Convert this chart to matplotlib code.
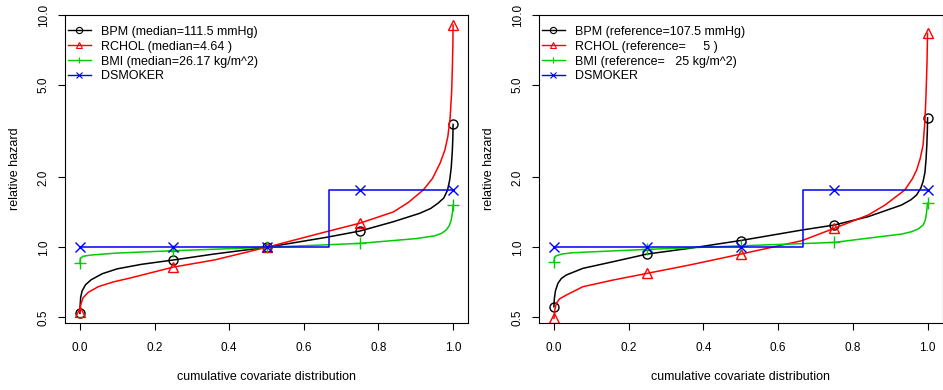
import matplotlib
matplotlib.use('Agg')
import matplotlib.pyplot as plt
from matplotlib.lines import Line2D
from matplotlib.ticker import NullLocator

plt.rcParams['font.family'] = ['Liberation Sans', 'DejaVu Sans']
plt.rcParams['font.size'] = 8

# quantiles where the markers sit
quantiles = [0.0, 0.25, 0.5, 0.75, 1.0]

# ---- left panel (relative to medians)
left_bpm_x = [0, 0.0005, 0.002, 0.006, 0.015, 0.03, 0.06, 0.1, 0.165, 0.25, 0.36, 0.5, 0.66, 0.75,
              0.84, 0.91, 0.94, 0.96, 0.975, 0.985, 0.991, 0.995, 0.998, 0.9995, 1.0]
left_bpm_y = [0.52, 0.56, 0.61, 0.65, 0.69, 0.725, 0.77, 0.808, 0.845, 0.882, 0.936, 1.0, 1.104, 1.175,
              1.289, 1.40, 1.47, 1.55, 1.63, 1.76, 1.95, 2.2, 2.6, 3.0, 3.38]
left_bpm_pts = [0.52, 0.882, 1.0, 1.175, 3.38]

left_rchol_x = [0, 0.002, 0.008, 0.022, 0.05, 0.09, 0.138, 0.25, 0.36, 0.5, 0.66, 0.75, 0.84, 0.88,
                0.92, 0.945, 0.965, 0.978, 0.986, 0.992, 0.996, 0.998, 0.9995, 1.0]
left_rchol_y = [0.528, 0.565, 0.605, 0.64, 0.678, 0.71, 0.74, 0.822, 0.882, 1.0, 1.167, 1.27, 1.42, 1.56,
                1.765, 1.98, 2.3, 2.62, 3.0, 3.6, 4.6, 5.8, 7.5, 9.06]
left_rchol_pts = [0.528, 0.822, 1.0, 1.27, 9.06]

left_bmi_x = [0, 0.001, 0.008, 0.031, 0.1, 0.25, 0.5, 0.75, 0.9, 0.95, 0.97, 0.982, 0.99, 0.995, 0.998, 1.0]
left_bmi_y = [0.853, 0.895, 0.915, 0.927, 0.945, 0.967, 1.0, 1.04, 1.09, 1.12, 1.15, 1.19, 1.24, 1.31, 1.4, 1.52]
left_bmi_pts = [0.853, 0.967, 1.0, 1.04, 1.52]

# ---- right panel (relative to reference values)
right_bpm_x = [0, 0.001, 0.004, 0.0107, 0.02, 0.033, 0.0775, 0.158, 0.25, 0.3625, 0.5, 0.6635, 0.75,
               0.841, 0.93, 0.955, 0.9706, 0.982, 0.988, 0.993, 0.996, 0.998, 0.9995, 1.0]
right_bpm_y = [0.555, 0.60, 0.65, 0.70, 0.735, 0.76, 0.812, 0.867, 0.936, 0.99, 1.07, 1.187, 1.247,
               1.355, 1.52, 1.60, 1.68, 1.80, 1.92, 2.1, 2.4, 2.75, 3.2, 3.61]
right_bpm_pts = [0.555, 0.936, 1.07, 1.247, 3.61]

right_rchol_x = [0, 0.0025, 0.0064, 0.015, 0.033, 0.0775, 0.158, 0.25, 0.3625, 0.5, 0.6635, 0.75, 0.841,
                 0.886, 0.939, 0.96, 0.9706, 0.98, 0.988, 0.993, 0.996, 0.9985, 1.0]
right_rchol_y = [0.495, 0.54, 0.574, 0.60, 0.623, 0.677, 0.723, 0.773, 0.839, 0.935, 1.068, 1.207, 1.377,
                 1.52, 1.765, 1.98, 2.15, 2.4, 2.75, 3.5, 4.6, 6.2, 8.34]
right_rchol_pts = [0.495, 0.773, 0.935, 1.207, 8.34]

right_bmi_x = [0, 0.0015, 0.0045, 0.02, 0.05, 0.25, 0.5, 0.75, 0.886, 0.93, 0.957, 0.975, 0.988, 0.994, 0.997, 1.0]
right_bmi_y = [0.867, 0.9, 0.917, 0.935, 0.948, 0.98, 1.015, 1.05, 1.118, 1.14, 1.167, 1.2, 1.247, 1.31, 1.40, 1.55]
right_bmi_pts = [0.867, 0.98, 1.015, 1.05, 1.55]

# smoker: binary, step at 2/3
smoker_x = [0, 0.667, 1.0]
smoker_y = [1.0, 1.765, 1.765]
smoker_pts = [1.0, 1.0, 1.0, 1.765, 1.765]

left_labels = ['BPM (median=111.5 mmHg)', 'RCHOL (median=4.64 )',
               'BMI (median=26.17 kg/m^2)', 'DSMOKER']
right_labels = ['BPM (reference=107.5 mmHg)', 'RCHOL (reference=     5 )',
                'BMI (reference=   25 kg/m^2)', 'DSMOKER']

ytick_vals = [0.5, 1.0, 2.0, 5.0, 10.0]
ytick_labels = ['0.5', '1.0', '2.0', '5.0', '10.0']
xtick_vals = [0.0, 0.2, 0.4, 0.6, 0.8, 1.0]

colors = ['black', '#ff0000', '#00cd00', '#0000ff']
markers = ['o', '^', '+', 'x']
msizes = [6.5, 7.5, 9, 6.5]


def draw_panel(ax, curves, labels):
    for i, (cx, cy, pts) in enumerate(curves):
        if i == 3:
            ax.plot(cx, cy, color=colors[i], lw=1.1, drawstyle='steps-post')
        else:
            ax.plot(cx, cy, color=colors[i], lw=1.1)
        ax.plot(quantiles, pts, ls='none', marker=markers[i], ms=msizes[i],
                mfc='none', mec=colors[i], mew=1.0)

    ax.set_yscale('log')
    ax.set_xlim(-0.04, 1.04)
    ax.set_ylim(0.471, 10.0)
    ax.set_yticks(ytick_vals)
    ax.set_yticklabels(ytick_labels)
    ax.yaxis.set_minor_locator(NullLocator())
    ax.set_xticks(xtick_vals)
    ax.set_xticklabels(['{:.1f}'.format(v) for v in xtick_vals])
    for lbl in ax.get_yticklabels():
        lbl.set_rotation(90)
        lbl.set_va('center')
    ax.tick_params(direction='out', length=5, width=0.8, labelsize=8.5, pad=6)
    ax.tick_params(axis='x', pad=8.5)
    for sp in ax.spines.values():
        sp.set_linewidth(0.8)

    ax.set_xlabel('cumulative covariate distribution', fontsize=9)
    ax.set_ylabel('relative hazard', fontsize=9)
    ax.xaxis.set_label_coords(0.5, -0.155)
    ax.yaxis.set_label_coords(-0.108, 0.5)

    handles = [Line2D([], [], color=colors[i], lw=1.0, marker=markers[i],
                      ms=4.5, mfc='none', mec=colors[i], mew=0.8)
               for i in range(4)]
    ax.legend(handles, labels, loc='upper left', bbox_to_anchor=(0.0, 0.973),
              frameon=False, fontsize=9,
              handlelength=1.85, handletextpad=0.8, labelspacing=0.23,
              borderaxespad=0.0, borderpad=0.2)


fig = plt.figure(figsize=(9.43, 3.9), dpi=100)
ax1 = fig.add_axes([65 / 943, 1 - 323.3 / 390, 403 / 943, 308.3 / 390])
ax2 = fig.add_axes([539 / 943, 1 - 323.3 / 390, 403.5 / 943, 308.3 / 390])

draw_panel(ax1, [(left_bpm_x, left_bpm_y, left_bpm_pts),
                 (left_rchol_x, left_rchol_y, left_rchol_pts),
                 (left_bmi_x, left_bmi_y, left_bmi_pts),
                 (smoker_x, smoker_y, smoker_pts)], left_labels)
draw_panel(ax2, [(right_bpm_x, right_bpm_y, right_bpm_pts),
                 (right_rchol_x, right_rchol_y, right_rchol_pts),
                 (right_bmi_x, right_bmi_y, right_bmi_pts),
                 (smoker_x, smoker_y, smoker_pts)], right_labels)

fig.savefig('out.png', dpi=100)
